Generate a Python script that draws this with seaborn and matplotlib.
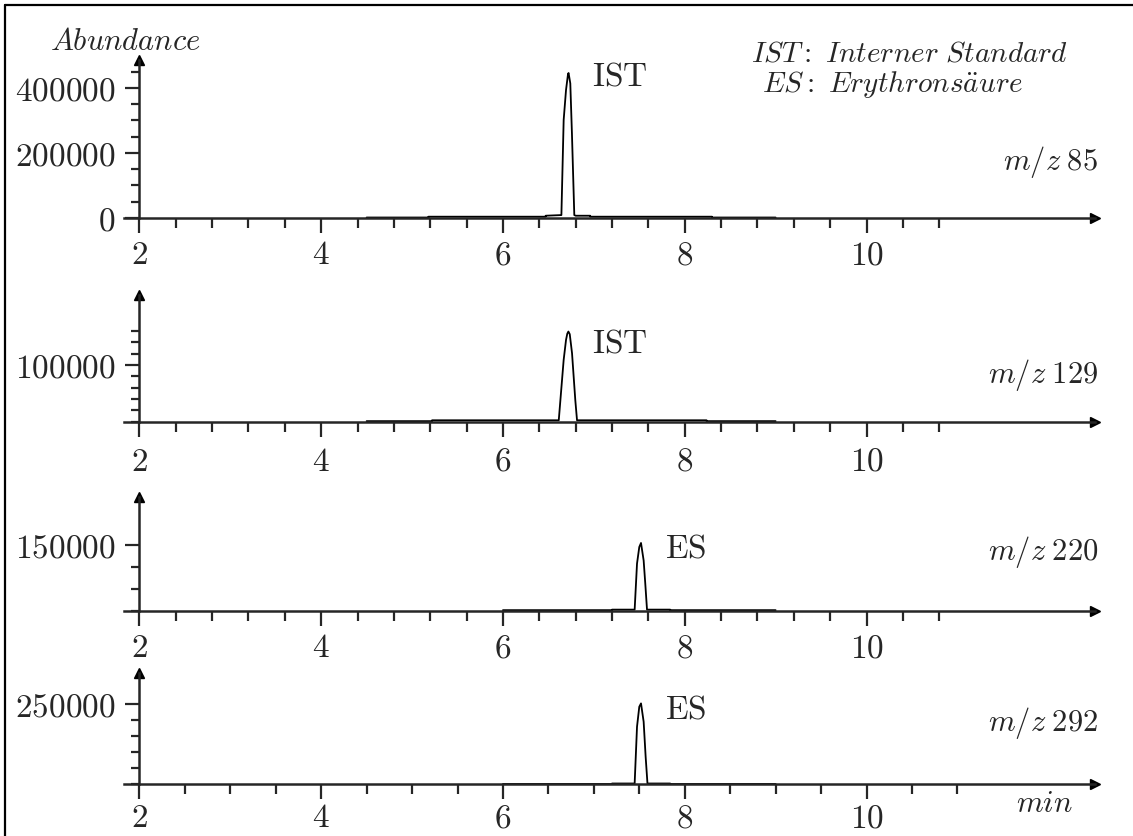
import numpy as np
import pandas as pd
import seaborn as sns
import matplotlib.pyplot as plt
from matplotlib.ticker import FixedLocator, FuncFormatter

# Retention time (min) and abundance, one trace per ion
time_85 = [4.50, 5.18, 5.18, 6.47, 6.47, 6.643, 6.668, 6.694, 6.716, 6.722, 6.741,
           6.759, 6.785, 6.80, 6.96, 6.96, 8.30, 8.30, 9.00]
abund_85 = [1500, 1500, 4000, 4000, 7000, 9000, 301500, 394000, 443000, 446000, 414000,
            260000, 9000, 7000, 7000, 4000, 4000, 1500, 1500]

time_129 = [4.50, 5.22, 5.22, 6.614, 6.668, 6.694, 6.708, 6.72, 6.735, 6.76, 6.796,
            6.815, 8.24, 8.24, 9.00]
abund_129 = [1000, 1000, 2500, 2500, 108800, 144000, 155000, 158700, 154000, 120600, 38000,
             2500, 2500, 1000, 1000]

time_220 = [6.00, 7.20, 7.20, 7.449, 7.475, 7.50, 7.519, 7.548, 7.566, 7.585, 7.84, 7.84, 9.00]
abund_220 = [800, 800, 2000, 2000, 107800, 146000, 155300, 115000, 61600, 2000, 2000, 800, 800]

time_292 = [6.00, 7.20, 7.20, 7.449, 7.475, 7.50, 7.519, 7.548, 7.57, 7.59, 7.84, 7.84, 9.00]
abund_292 = [1000, 1000, 2500, 2500, 180000, 242500, 253000, 195600, 86000, 2500, 2500, 1000, 1000]

mz_labels = ["85", "129", "220", "292"]
peak_names = ["IST", "IST", "ES", "ES"]
peak_times = [6.72, 6.72, 7.52, 7.52]
label_heights = [434800, 138300, 143000, 235300]

# y ticks per panel
y_major = [[0, 200000, 400000], [100000], [150000], [250000]]
y_minor = [list(range(0, 450001, 50000)), list(range(0, 160001, 20000)),
           [0, 50000, 100000, 150000], list(range(0, 250001, 50000))]
y_top = [486000, 223000, 261000, 349000]
x_major = [2, 4, 6, 8, 10]
x_minor_step = [0.4, 0.4, 0.4, 0.5]

traces = [(time_85, abund_85), (time_129, abund_129),
          (time_220, abund_220), (time_292, abund_292)]

sns.set_style("ticks")
plt.rcParams["font.family"] = ["DejaVu Serif"]
plt.rcParams["mathtext.fontset"] = "cm"

W, H = 1133, 836
fig = plt.figure(figsize=(W / 100, H / 100), dpi=100)

# panel placement in pixels: (baseline, top)
panel_px = [(218, 60), (421.7, 295), (610.5, 497), (784.3, 672.7)]
x_pad = [4.5, 6.5, 5.0, 2.2]
left_px, right_px = 124, 1095
xmin, xmax = 1.8306, 12.514

fmt = FuncFormatter(lambda v, p: f"${v:.0f}$")
tfs = 24

for i, (base, top) in enumerate(panel_px):
    ax = fig.add_axes([left_px / W, 1 - base / H, (right_px - left_px) / W, (base - top) / H])
    t, a = traces[i]
    df = pd.DataFrame({"time": t, "abundance": a})
    sns.lineplot(data=df, x="time", y="abundance", ax=ax, color="black",
                 linewidth=1.3, estimator=None, sort=False)
    ax.set_xlim(xmin, xmax)
    ax.set_ylim(0, y_top[i])
    ax.set_xlabel("")
    ax.set_ylabel("")

    for s in ["top", "right"]:
        ax.spines[s].set_visible(False)
    ax.spines["left"].set_position(("data", 2))
    ax.spines["left"].set_linewidth(1.8)
    ax.spines["bottom"].set_linewidth(1.8)

    ax.xaxis.set_major_locator(FixedLocator(x_major))
    ax.xaxis.set_minor_locator(FixedLocator(np.arange(2, 11.01, x_minor_step[i])))
    ax.xaxis.set_major_formatter(fmt)
    ax.yaxis.set_major_locator(FixedLocator(y_major[i]))
    ax.yaxis.set_minor_locator(FixedLocator(y_minor[i]))
    ax.yaxis.set_major_formatter(fmt)

    ax.tick_params(axis="x", which="both", bottom=True, top=False)
    ax.tick_params(axis="y", which="both", left=True, right=False)
    ax.tick_params(axis="x", which="major", direction="out", length=10.8, width=1.6,
                   pad=x_pad[i], labelsize=tfs)
    ax.tick_params(axis="x", which="minor", direction="out", length=7, width=1.6)
    ax.tick_params(axis="y", which="major", direction="out", length=10, width=1.6,
                   pad=7, labelsize=tfs)
    ax.tick_params(axis="y", which="minor", direction="out", length=5.8, width=1.6)

    # arrow heads on both axes
    ax.plot(1, 0, ">k", ms=7, transform=ax.get_yaxis_transform(), clip_on=False)
    ax.plot(2, 1, "^k", ms=7, transform=ax.get_xaxis_transform(), clip_on=False)

    ax.text(peak_times[i] + 0.26, label_heights[i], r"$\mathrm{" + peak_names[i] + "}$",
            fontsize=tfs, ha="left", va="center", clip_on=False)

mz_y = [162, 375, 552, 723]
for i, y in enumerate(mz_y):
    fig.text(1098 / W, 1 - y / H, r"$m/z\;%s$" % mz_labels[i], fontsize=22,
             ha="right", va="center")

fig.text(50 / W, 1 - 42 / H, r"$\mathit{Abundance}$", fontsize=22, ha="left", va="center")
fig.text(1073 / W, 1 - 804 / H, r"$\mathit{min}$", fontsize=22, ha="right", va="center")
fig.text(751 / W, 1 - 53 / H, r"$\mathit{IST{:}\ Interner\ Standard}$", fontsize=21,
         ha="left", va="center")
fig.text(762 / W, 1 - 85 / H, r"$\mathit{ES{:}\ Erythrons\ddot{a}ure}$", fontsize=21,
         ha="left", va="center")

# outer frame (top and left edges)
fig.add_artist(plt.Line2D([5 / W, 1], [1 - 5 / H, 1 - 5 / H], color="black",
                          lw=1.6, transform=fig.transFigure))
fig.add_artist(plt.Line2D([5 / W, 5 / W], [0, 1 - 5 / H], color="black",
                          lw=1.6, transform=fig.transFigure))

fig.savefig("out.png", dpi=100)
